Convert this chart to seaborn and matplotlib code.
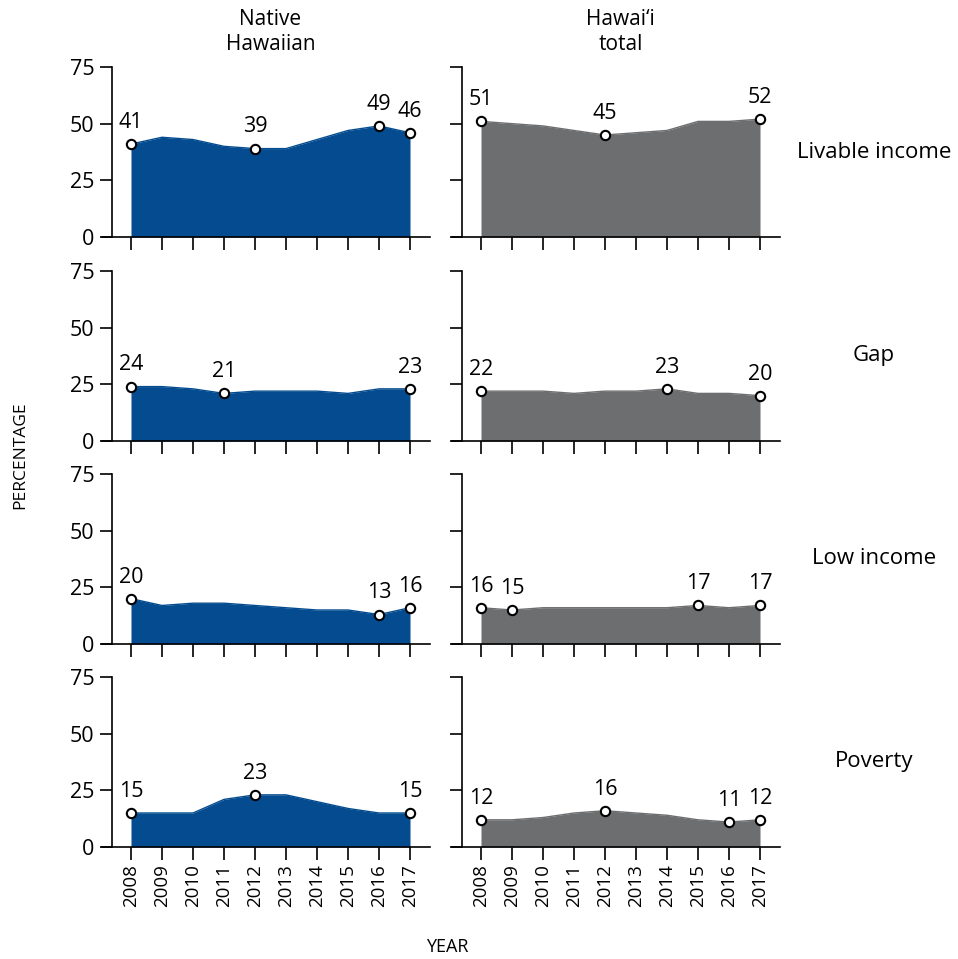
import numpy as np
import pandas as pd
import matplotlib
matplotlib.use("Agg")
import matplotlib.pyplot as plt
import seaborn as sns

years = list(range(2008, 2018))
groups = ["Native\nHawaiian", "Hawai\u2018i\ntotal"]
measures = ["Livable income", "Gap", "Low income", "Poverty"]

nh_livable = [41, 44, 43, 40, 39, 39, 43, 47, 49, 46]
hi_livable = [51, 50, 49, 47, 45, 46, 47, 51, 51, 52]
nh_gap = [24, 24, 23, 21, 22, 22, 22, 21, 23, 23]
hi_gap = [22, 22, 22, 21, 22, 22, 23, 21, 21, 20]
nh_low = [20, 17, 18, 18, 17, 16, 15, 15, 13, 16]
hi_low = [16, 15, 16, 16, 16, 16, 16, 17, 16, 17]
nh_poverty = [15, 15, 15, 21, 23, 23, 20, 17, 15, 15]
hi_poverty = [12, 12, 13, 15, 16, 15, 14, 12, 11, 12]

# labelled years per panel
nh_livable_lab = [2008, 2012, 2016, 2017]
hi_livable_lab = [2008, 2012, 2017]
nh_gap_lab = [2008, 2011, 2017]
hi_gap_lab = [2008, 2014, 2017]
nh_low_lab = [2008, 2016, 2017]
hi_low_lab = [2008, 2009, 2015, 2017]
nh_poverty_lab = [2008, 2012, 2017]
hi_poverty_lab = [2008, 2012, 2016, 2017]

series = [
    [(nh_livable, nh_livable_lab), (hi_livable, hi_livable_lab)],
    [(nh_gap, nh_gap_lab), (hi_gap, hi_gap_lab)],
    [(nh_low, nh_low_lab), (hi_low, hi_low_lab)],
    [(nh_poverty, nh_poverty_lab), (hi_poverty, hi_poverty_lab)],
]
colors = ["#044C8F", "#6D6E70"]

sns.set_theme(style="ticks")
plt.rcParams["font.family"] = ["Open Sans", "DejaVu Sans"]
plt.rcParams["axes.linewidth"] = 1.2
plt.rcParams["axes.edgecolor"] = "black"
plt.rcParams["text.color"] = "black"
plt.rcParams["xtick.color"] = "black"
plt.rcParams["ytick.color"] = "black"
plt.rcParams["xtick.labelcolor"] = "black"
plt.rcParams["ytick.labelcolor"] = "black"

fig = plt.figure(figsize=(9.58, 9.59), dpi=100)
W, H = 958, 959
col_left = [102, 452]
col_w = 328
row_top = [67, 271, 474, 677]
row_h = 170

x_left, x_right = 2007.065, 2017.645
spine_x = 2007.39

for r in range(4):
    for c in range(2):
        ax = fig.add_axes([col_left[c] / W, 1 - (row_top[r] + row_h) / H, col_w / W, row_h / H])
        vals, lab = series[r][c]
        df = pd.DataFrame({"year": years, "value": vals})
        ax.fill_between(df["year"], 0, df["value"], color=colors[c], linewidth=0, zorder=1)
        sns.lineplot(data=df, x="year", y="value", color=colors[c], linewidth=1, ax=ax, zorder=2)
        dl = df[df["year"].isin(lab)]
        sns.scatterplot(data=dl, x="year", y="value", ax=ax, s=45, color="white",
                        edgecolor="black", linewidth=1.5, zorder=5, clip_on=False)
        for _, row in dl.iterrows():
            ax.annotate(f"{int(row['value'])}", (row["year"], row["value"]),
                        xytext=(0, 8), textcoords="offset points", ha="center", va="bottom",
                        fontsize=15.5, color="black", annotation_clip=False)
        ax.set_xlim(x_left, x_right)
        ax.set_ylim(0, 75)
        ax.set_yticks([0, 25, 50, 75])
        ax.set_xticks(years)
        ax.spines["top"].set_visible(False)
        ax.spines["right"].set_visible(False)
        ax.spines["left"].set_position(("data", spine_x))
        ax.tick_params(axis="both", length=9, width=1.2, color="black", direction="out")
        if c == 0:
            ax.set_yticklabels(["0", "25", "50", "75"], fontsize=15.5)
        else:
            ax.set_yticklabels([])
        if r == 3:
            ax.set_xticklabels([str(y) for y in years], rotation=90, fontsize=13.5)
        else:
            ax.set_xticklabels([])
        ax.set_xlabel("")
        ax.set_ylabel("")
        ax.set_facecolor("white")
        if r == 0:
            ax.annotate(groups[c], ((2008 + 2017) / 2, 1.0), xycoords=ax.get_xaxis_transform(),
                        xytext=(0, 9), textcoords="offset points",
                        ha="center", va="bottom", fontsize=15, linespacing=1.2,
                        annotation_clip=False)
    fig.text(874 / W, 1 - (row_top[r] + row_h / 2) / H, measures[r], ha="center",
             va="center", fontsize=16)

fig.text(20 / W, 1 - 455 / H, "PERCENTAGE", rotation=90, ha="center", va="center", fontsize=12.5)
fig.text(447 / W, 1 - 947 / H, "YEAR", ha="center", va="center", fontsize=13)

fig.savefig("out.png", dpi=100, facecolor="white")
